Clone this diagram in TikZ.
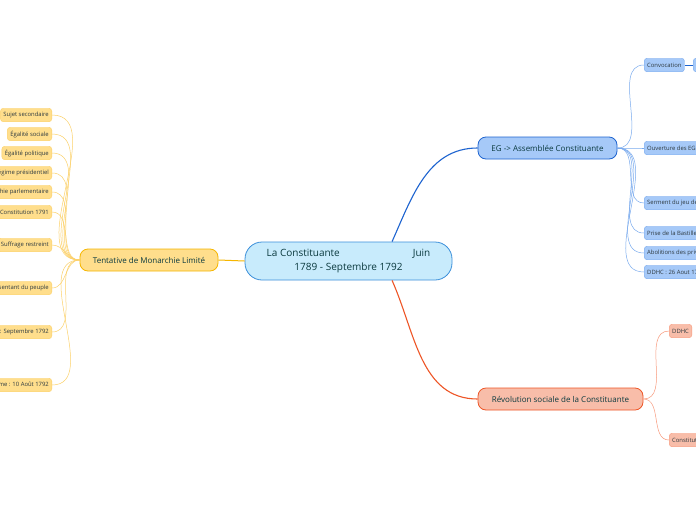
\documentclass[tikz,border=0pt]{standalone}
\usepackage{fontspec}
\setmainfont{Open Sans}
\usepackage{tikz}
\usetikzlibrary{positioning}
\usepackage{xcolor}
\definecolor{rootfill}{HTML}{C8EBFC}
\definecolor{rootline}{HTML}{3B8FDA}
\definecolor{ylfill}{HTML}{FFDE8C}
\definecolor{ylline}{HTML}{F6B600}
\definecolor{ylsoft}{HTML}{FCD16A}
\definecolor{blfill}{HTML}{A6C9F8}
\definecolor{blline}{HTML}{1E64D0}
\definecolor{blsoft}{HTML}{79AAEE}
\definecolor{rdfill}{HTML}{F8BDA9}
\definecolor{rdline}{HTML}{EE5627}
\definecolor{rdsoft}{HTML}{F89A7D}
\definecolor{ink}{HTML}{0B3A3F}
\definecolor{smallink}{HTML}{2E3A40}

\begin{document}
\begin{tikzpicture}[x=1pt,y=-1pt,font=\fontsize{8}{9}\selectfont,
  root/.style={draw=rootline,fill=rootfill,thick,rounded corners=17pt,align=center,
    minimum width=207pt,minimum height=38pt,text=ink,font=\fontsize{10}{13.5}\selectfont},
  topic/.style={draw,thick,rounded corners=8pt,minimum height=22pt,text=ink,inner xsep=6pt},
  leaf/.style={draw,rounded corners=3pt,minimum height=13.5pt,inner xsep=3pt,inner ysep=1pt,
    text=smallink,font=\fontsize{5.9}{6.5}\selectfont},
  yleaf/.style={leaf,fill=ylfill,draw=ylsoft,anchor=east},
  bleaf/.style={leaf,fill=blfill,draw=blsoft,anchor=west},
  rleaf/.style={leaf,fill=rdfill,draw=rdsoft,anchor=west},
  yl/.style={draw=ylsoft,line width=0.5pt},
  bl/.style={draw=blsoft,line width=0.5pt},
  rl/.style={draw=rdsoft,line width=0.5pt}]
\useasboundingbox (0,0) rectangle (696,520);
\fill[white] (0,0) rectangle (696,520);
\clip (0,0) rectangle (696,520);
% centre
\node[root] (lc) at (348.5,261) {La Constituante\hspace{73pt}Juin\\1789 - Septembre 1792};
% main topics
\node[topic,fill=ylfill,draw=ylline,minimum width=138pt] (tm) at (149,260) {Tentative de Monarchie Limité};
\node[topic,fill=blfill,draw=blline,minimum width=139pt] (eg) at (547.5,148) {EG -> Assemblée Constituante};
\node[topic,fill=rdfill,draw=rdline,minimum width=165pt] (rs) at (560.5,399) {Révolution sociale de la Constituante};
\draw[ylline,line width=1pt] (lc.west) -- (tm.east);
\draw[blline,line width=1.1pt] (lc.24) to[out=66,in=180] (eg.west);
\draw[rdline,line width=1.1pt] (lc.-24) to[out=-66,in=180] (rs.west);
% left leaves
\node[yleaf] (s1) at (52,115) {Sujet secondaire};
\node[yleaf] (s2) at (52,134) {Égalité sociale};
\node[yleaf] (s3) at (52,153) {Égalité politique};
\node[yleaf] (s4) at (52,173) {Régime présidentiel};
\node[yleaf] (s5) at (52,192) {Monarchie parlementaire};
\node[yleaf] (s6) at (52,212) {Constitution 1791};
\node[yleaf] (s7) at (52,245) {Suffrage restreint};
\node[yleaf] (s8) at (52,288) {Représentant du peuple};
\node[yleaf] (s9) at (52,332) {République : Septembre 1792};
\node[yleaf] (s10) at (52,385) {Fin du royaume : 10 Août 1792};
\foreach \s in {s1,s2,s3,s4,s5,s6,s7,s8,s9,s10}
  \draw[yl] (tm.west) to[out=180,in=0] (\s.east);
% EG leaves
\node[bleaf] (e1) at (644,65) {Convocation};
\node[bleaf] (e2) at (644,148) {Ouverture des EG : 5 Mai 1789};
\node[bleaf] (e3) at (644,203) {Serment du jeu de paume};
\node[bleaf] (e4) at (644,233) {Prise de la Bastille};
\node[bleaf] (e5) at (644,253) {Abolitions des privilèges};
\node[bleaf] (e6) at (644,272) {DDHC : 26 Aout 1789};
\node[bleaf] (e7) at (693,65) {Cahiers de doléances};
\foreach \e in {e1,e2,e3,e4,e5,e6}
  \draw[bl] (eg.east) to[out=0,in=180] (\e.west);
\draw[blline,line width=1pt] (e1.east) -- (e7.west);
% social leaves
\node[rleaf] (r1) at (669,331) {DDHC};
\node[rleaf] (r2) at (669,440) {Constitution 1791};
\draw[rl] (rs.east) to[out=0,in=180] (r1.west);
\draw[rl] (rs.east) to[out=0,in=180] (r2.west);
\end{tikzpicture}
\end{document}
